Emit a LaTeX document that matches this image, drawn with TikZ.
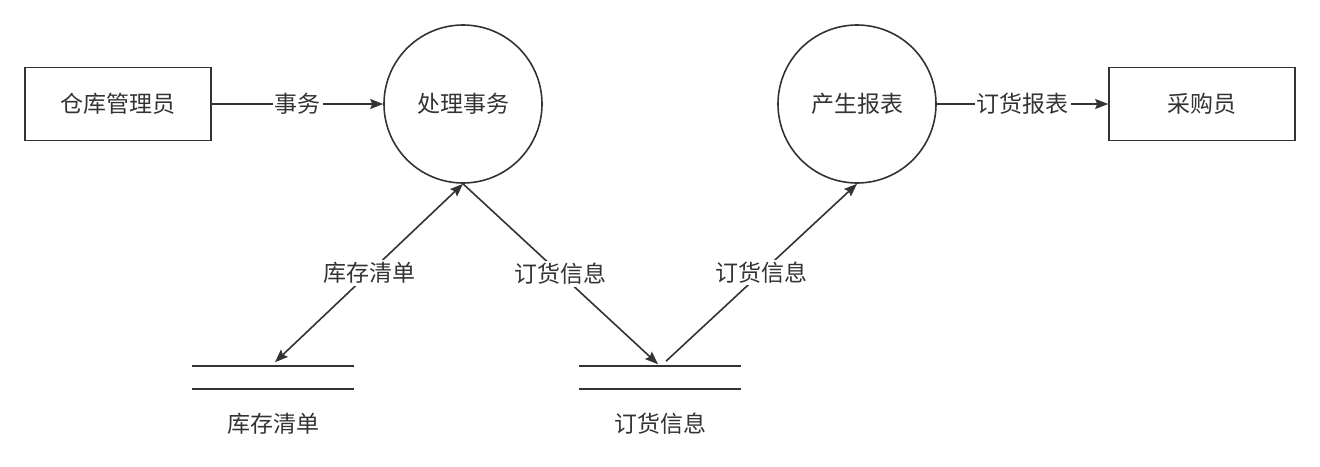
\documentclass[tikz,border=0pt]{standalone}
\usepackage{fontspec}
\newfontfamily\cjk{Noto Sans CJK SC}
\usetikzlibrary{calc,arrows.meta,positioning}
\definecolor{ink}{HTML}{333333}

\begin{document}
\begin{tikzpicture}[x=1pt, y=-1pt, line width=1.6pt, draw=ink, text=ink,
  every node/.style={font=\cjk\fontsize{23}{26}\selectfont},
  entity/.style={draw, minimum width=186pt, minimum height=73pt, inner sep=0pt},
  proc/.style={draw, circle, minimum size=158pt, inner sep=0pt},
  store/.style={minimum width=160pt, minimum height=21pt, inner sep=0pt},
  flow/.style={-{Stealth[length=13pt,width=10pt,inset=2pt]}},
  twoway/.style={{Stealth[length=13pt,width=10pt,inset=2pt]}-{Stealth[length=13pt,width=10pt,inset=2pt]}},
  lbl/.style={inner sep=2pt, fill=white}]
\useasboundingbox (0,0) rectangle (1320,466);
% external entities
\node[entity] (ckgly) at (118,104) {仓库管理员};
\node[entity] (cgy) at (1202,104) {采购员};
% processes
\node[proc] (clsw) at (463,104) {处理事务};
\node[proc] (csbb) at (857,104) {产生报表};
% data stores
\node[store] (kcqd) at (273,377.5) {};
\node[store] (dhxx) at (660,377.5) {};
\draw (kcqd.north west) -- (kcqd.north east);
\draw (kcqd.south west) -- (kcqd.south east);
\draw (dhxx.north west) -- (dhxx.north east);
\draw (dhxx.south west) -- (dhxx.south east);
\node[below=20pt of kcqd.south] (kcqdtxt) {库存清单};
\node[below=20pt of dhxx.south] (dhxxtxt) {订货信息};
\coordinate (kcin) at ($(kcqd.north)+(2,-4)$);
\coordinate (dhin) at ($(dhxx.north)+(-2,-2)$);
\coordinate (dhout) at ($(dhxx.north)+(6,-5)$);
% flows
\draw[flow] (ckgly) -- node[midway, lbl] {事务} (clsw);
\draw[flow] (csbb) -- node[midway, lbl] {订货报表} (cgy);
\draw[twoway] (kcin) -- node[midway, lbl] {库存清单} (clsw.south);
\draw[flow] (clsw.south) -- node[midway, lbl] {订货信息} (dhin);
\draw[flow] (dhout) -- node[midway, lbl] {订货信息} (csbb.south);
\end{tikzpicture}
\end{document}
